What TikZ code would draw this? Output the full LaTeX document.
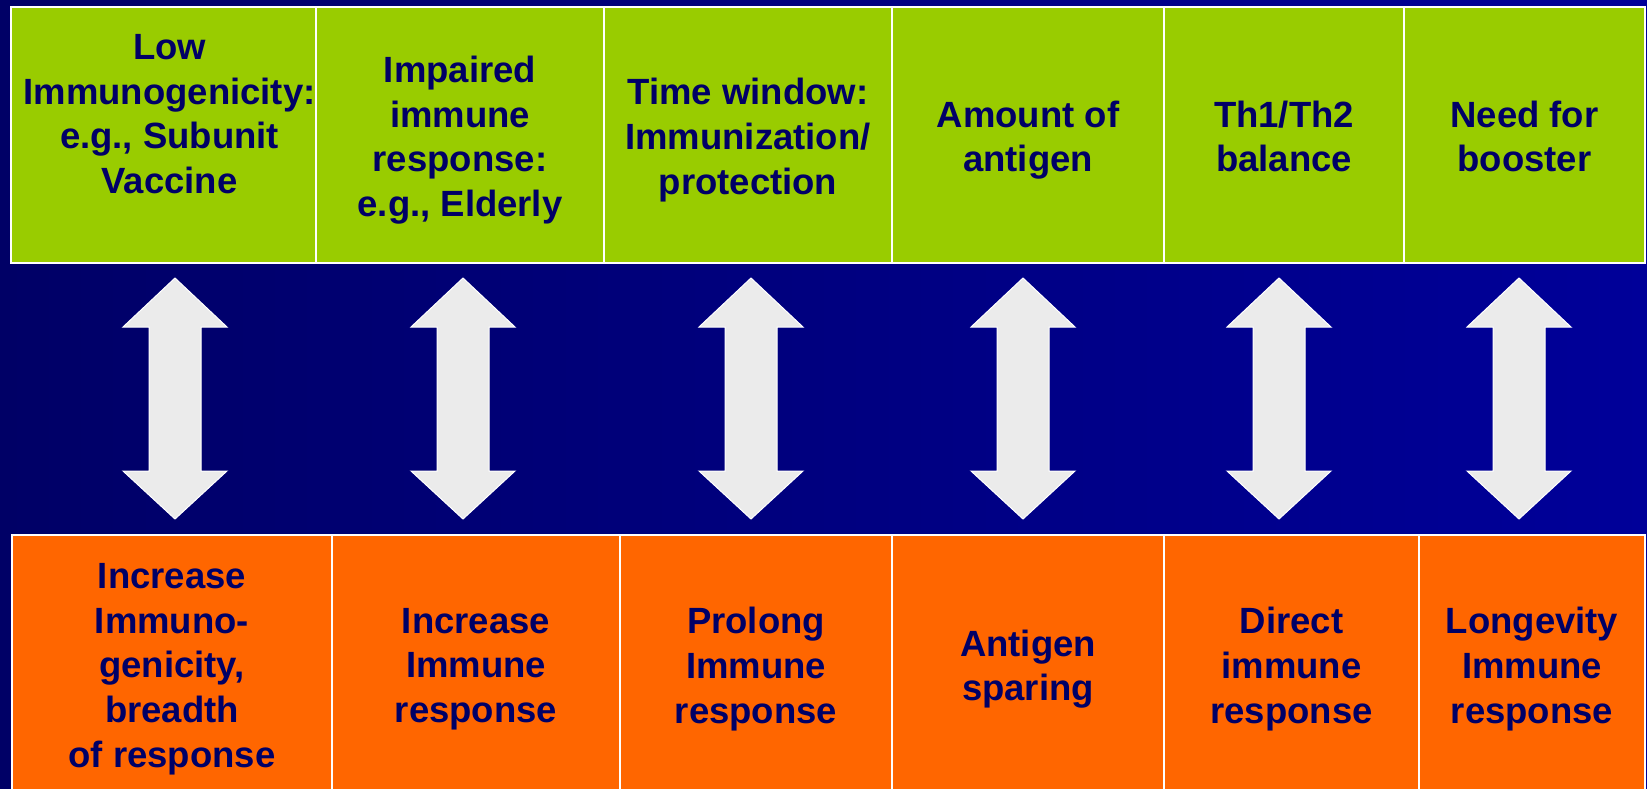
\documentclass[tikz,border=0pt]{standalone}
\usepackage{fontspec}
\setmainfont{Liberation Sans}
\usepackage{xcolor}
\usetikzlibrary{math}
\definecolor{mygreen}{RGB}{153,204,0}
\definecolor{myorange}{RGB}{255,102,0}
\definecolor{mynavy}{RGB}{0,0,102}
\definecolor{myblue}{RGB}{0,0,153}
\definecolor{mygray}{RGB}{235,235,235}

\begin{document}
\begin{tikzpicture}[x=1pt,y=-1pt,
  cell/.style={draw=white,line width=2,inner sep=0},
  topcell/.style={cell,fill=mygreen,minimum height=256},
  botcell/.style={cell,fill=myorange,minimum height=258},
  txt/.style={inner sep=0,align=center,text=mynavy,yshift=-8,
    font=\fontsize{36.5}{44.6}\selectfont\bfseries,
    execute at begin node=\strut,execute at end node=\strut},
  dblarrow/.style={fill=mygray,draw=white,line width=1}]
\tikzmath{
\ya=135;
\yb=664;
}
\useasboundingbox (0,0) rectangle (1647,788);
\shade[left color=mynavy,right color=myblue] (0,0) rectangle (1647,788);

% green row
\node[topcell,minimum width=305] (t1) at (163.5,\ya) {};
\node[topcell,minimum width=288] (t2) at (460,\ya) {};
\node[topcell,minimum width=288] (t3) at (748,\ya) {};
\node[topcell,minimum width=272] (t4) at (1028,\ya) {};
\node[topcell,minimum width=240] (t5) at (1284,\ya) {};
\node[topcell,minimum width=241] (t6) at (1524.5,\ya) {};
\node[txt,xshift=6] (lt1) at (t1) {Low\\Immunogenicity:\\e.g., Subunit\\Vaccine\\~};
\node[txt] (lt2) at (t2) {Impaired\\immune\\response:\\e.g., Elderly};
\node[txt] (lt3) at (t3) {Time window:\\Immunization/\\protection};
\node[txt] (lt4) at (t4) {Amount of\\antigen};
\node[txt] (lt5) at (t5) {Th1/Th2\\balance};
\node[txt] (lt6) at (t6) {Need for\\booster};

% orange row
\node[botcell,minimum width=320] (b1) at (172,\yb) {};
\node[botcell,minimum width=288] (b2) at (476,\yb) {};
\node[botcell,minimum width=272] (b3) at (756,\yb) {};
\node[botcell,minimum width=272] (b4) at (1028,\yb) {};
\node[botcell,minimum width=255] (b5) at (1291.5,\yb) {};
\node[botcell,minimum width=226] (b6) at (1532,\yb) {};
\node[txt] (lb1) at (b1) {Increase\\Immuno-\\genicity,\\breadth\\of response};
\node[txt] (lb2) at (b2) {Increase\\Immune\\response};
\node[txt] (lb3) at (b3) {Prolong\\Immune\\response};
\node[txt] (lb4) at (b4) {Antigen\\sparing};
\node[txt] (lb5) at (b5) {Direct\\immune\\response};
\node[txt] (lb6) at (b6) {Longevity\\Immune\\response};

\foreach \x [count=\i] in {175,463,751,1023,1279,1519} {
  \coordinate (up\i) at (\x,278);
  \coordinate (dn\i) at (\x,519);
  \draw[dblarrow] (up\i) -- ++(52,49) -- ++(-26,0) -- ++(0,144) -- ++(26,0) -- (dn\i)
    -- ++(-52,-48) -- ++(26,0) -- ++(0,-144) -- ++(-26,0) -- cycle;
}
\end{tikzpicture}
\end{document}
